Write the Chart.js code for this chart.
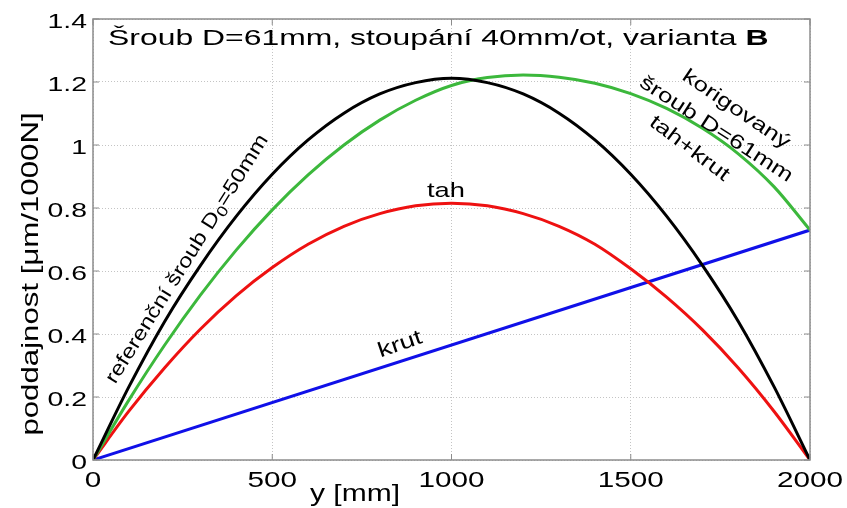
<!DOCTYPE html>
<html>
<head>
<meta charset="utf-8">
<script src="https://cdn.jsdelivr.net/npm/chart.js@4"></script>
<style>
  html, body { margin: 0; padding: 0; background: #fff; }
  canvas { display: block; }
</style>
</head>
<body>
<canvas id="chart" width="847" height="508"></canvas>
<script>
// data, y in mm along the screw
const yPos = [0, 100, 200, 300, 400, 500, 600, 700, 800, 900, 1000,
              1100, 1200, 1300, 1400, 1500, 1600, 1700, 1800, 1900, 2000];
const referencni = [0, 0.232, 0.44, 0.618, 0.774, 0.907, 1.016, 1.101, 1.162, 1.198, 1.212,
                    1.198, 1.162, 1.101, 1.016, 0.907, 0.774, 0.618, 0.44, 0.232, 0];
const tahKrut = [0, 0.19, 0.365, 0.524, 0.667, 0.794, 0.905, 1.0, 1.079, 1.142, 1.189,
                 1.214, 1.222, 1.215, 1.196, 1.163, 1.116, 1.053, 0.972, 0.867, 0.73];
const tah = [0, 0.155, 0.293, 0.416, 0.522, 0.611, 0.685, 0.742, 0.782, 0.807, 0.815,
             0.807, 0.782, 0.742, 0.685, 0.607, 0.517, 0.413, 0.292, 0.154, 0];
const krutPos = [0, 2000];
const krut = [0, 0.73];

const xTicks = [0, 500, 1000, 1500, 2000];
const yTicks = [0, 0.2, 0.4, 0.6, 0.8, 1, 1.2, 1.4];
const xTickLabels = ['0', '500', '1000', '1500', '2000'];
const yTickLabels = ['0', '0.2', '0.4', '0.6', '0.8', '1', '1.2', '1.4'];

const FONT = '"Liberation Sans", Arial, sans-serif';
const frameColor = '#8c8c8c';

const pts = (xs, ys) => xs.map((x, i) => ({ x: x, y: ys[i] }));

// text is a bit wide in the original, so stretch it along the baseline
function drawRuns(ctx, runs, x, y, opts) {
    const angle = (opts.angle || 0) * Math.PI / 180;
    const sx = opts.sx || 1.3;
    ctx.save();
    ctx.translate(x, y);
    ctx.rotate(angle);
    ctx.scale(sx, 1);
    ctx.fillStyle = '#000';
    ctx.textBaseline = 'alphabetic';
    ctx.textAlign = 'left';
    let total = 0;
    runs.forEach((r) => {
        ctx.font = (r.bold ? 'bold ' : '') + r.size + 'px ' + FONT;
        r.w = ctx.measureText(r.t).width;
        total += r.w;
    });
    let cx = 0;
    if (opts.align === 'center') cx = -total / 2;
    if (opts.align === 'right') cx = -total;
    runs.forEach((r) => {
        ctx.font = (r.bold ? 'bold ' : '') + r.size + 'px ' + FONT;
        ctx.fillText(r.t, cx, r.dy || 0);
        cx += r.w;
    });
    ctx.restore();
}

const overlay = {
    id: 'overlay',
    afterDraw(chart) {
        const ctx = chart.ctx;
        const a = chart.chartArea;
        const xs = chart.scales.x;
        const ys = chart.scales.y;

        ctx.save();
        ctx.strokeStyle = frameColor;
        ctx.lineWidth = 1.5;
        ctx.strokeRect(a.left, a.top, a.right - a.left, a.bottom - a.top);
        ctx.lineWidth = 1;
        ctx.beginPath();
        xTicks.forEach((v) => {
            const px = xs.getPixelForValue(v);
            ctx.moveTo(px, a.bottom); ctx.lineTo(px, a.bottom - 6);
            ctx.moveTo(px, a.top); ctx.lineTo(px, a.top + 6);
        });
        yTicks.forEach((v) => {
            const py = ys.getPixelForValue(v);
            ctx.moveTo(a.left, py); ctx.lineTo(a.left + 6, py);
            ctx.moveTo(a.right, py); ctx.lineTo(a.right - 6, py);
        });
        ctx.stroke();
        ctx.restore();

        // tick labels
        xTicks.forEach((v, i) => {
            drawRuns(ctx, [{ t: xTickLabels[i], size: 22 }], xs.getPixelForValue(v), 487,
                { align: 'center', sx: 1.35 });
        });
        yTicks.forEach((v, i) => {
            drawRuns(ctx, [{ t: yTickLabels[i], size: 21 }], 87, ys.getPixelForValue(v) + 8.5,
                { align: 'right', sx: 1.35 });
        });

        // axis titles
        drawRuns(ctx, [{ t: 'y [mm]', size: 24 }], 355, 501, { align: 'center', sx: 1.25 });
        drawRuns(ctx, [{ t: 'poddajnost [\u03bcm/1000N]', size: 24 }], 38, 274,
            { align: 'center', angle: -90, sx: 1.3 });

        // title inside the plot
        drawRuns(ctx, [
            { t: 'Šroub D=61mm, stoupání 40mm/ot, varianta ', size: 22 },
            { t: 'B', size: 22, bold: true },
        ], 108, 45, { align: 'left', sx: 1.45 });

        // curve labels
        drawRuns(ctx, [{ t: 'tah', size: 21 }], 446, 197, { align: 'center', sx: 1.3 });
        drawRuns(ctx, [{ t: 'krut', size: 21 }], 402, 350, { align: 'center', angle: -19, sx: 1.3 });
        drawRuns(ctx, [
            { t: 'referenční šroub D', size: 20 },
            { t: '0', size: 15, dy: 4 },
            { t: '=50mm', size: 20 },
        ], 192, 262, { align: 'center', angle: -58, sx: 1.2 });
        drawRuns(ctx, [{ t: 'korigovaný', size: 20 }], 733, 114, { align: 'center', angle: 34, sx: 1.3 });
        drawRuns(ctx, [{ t: 'šroub D=61mm', size: 20 }], 713, 134, { align: 'center', angle: 33, sx: 1.3 });
        drawRuns(ctx, [{ t: 'tah+krut', size: 20 }], 686, 153, { align: 'center', angle: 37, sx: 1.3 });
    },
};

const line = (label, xs, ys, color) => ({
    label: label,
    data: pts(xs, ys),
    borderColor: color,
    backgroundColor: color,
    borderWidth: 3,
    pointRadius: 0,
    cubicInterpolationMode: 'monotone',
    fill: false,
});

const ctx = document.getElementById('chart').getContext('2d');
new Chart(ctx, {
    type: 'line',
    data: {
        datasets: [
            line('referenční šroub', yPos, referencni, '#000000'),
            line('tah+krut', yPos, tahKrut, '#3cb83c'),
            line('tah', yPos, tah, '#ee1111'),
            line('krut', krutPos, krut, '#1010e8'),
        ],
    },
    options: {
        responsive: false,
        devicePixelRatio: 1,
        animation: false,
        events: [],
        layout: { padding: { left: 0, top: 19, right: 37, bottom: 0 } },
        plugins: {
            legend: { display: false },
            tooltip: { enabled: false },
            title: { display: false },
        },
        scales: {
            x: {
                type: 'linear',
                min: 0,
                max: 2000,
                ticks: { display: false, stepSize: 500 },
                grid: { color: '#c4c4c4', lineWidth: 1, drawTicks: false },
                border: { display: false, dash: [1, 2] },
                afterFit: (scale) => { scale.height = 48; },
            },
            y: {
                type: 'linear',
                min: 0,
                max: 1.4,
                ticks: { display: false, stepSize: 0.2 },
                grid: { color: '#c4c4c4', lineWidth: 1, drawTicks: false },
                border: { display: false, dash: [1, 2] },
                afterFit: (scale) => { scale.width = 93; },
            },
        },
    },
    plugins: [overlay],
});
</script>
</body>
</html>
